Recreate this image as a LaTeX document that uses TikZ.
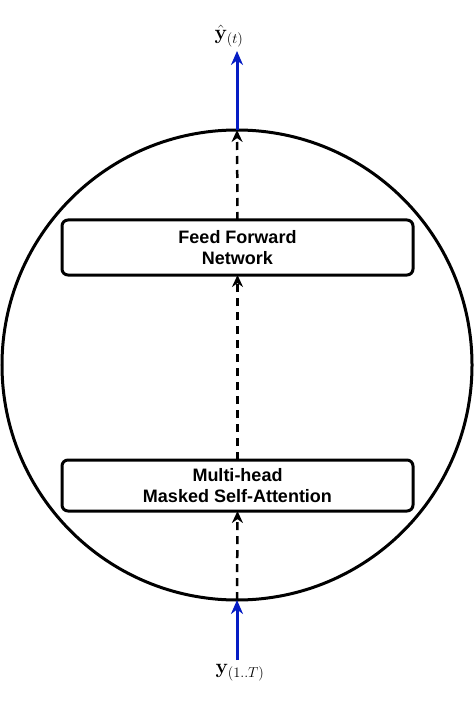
\documentclass[tikz,border=0pt]{standalone}
\usepackage[no-math]{fontspec}
\setmainfont{Liberation Sans}
\usetikzlibrary{arrows.meta}
\definecolor{iblue}{RGB}{5,28,196}

\begin{document}
\begin{tikzpicture}[x=1pt,y=-1pt]
		\useasboundingbox (0,0) rectangle (474,703);
		\tikzset{cell/.style = {shape=circle,draw,line width=3pt,minimum size=470pt,inner sep=0pt,outer sep=0pt}}
		\tikzset{block/.style = {shape=rectangle,draw,line width=3pt,rounded corners=6pt,minimum width=351pt,inner sep=0pt,outer sep=0pt,align=center,font=\fontsize{18}{21.6}\selectfont\bfseries}}
		\tikzset{label/.style = {inner sep=0pt,font=\fontsize{21.5}{25}\selectfont}}
		\tikzset{flow/.style = {line width=2.5pt,dash pattern=on 8pt off 6pt,-{Stealth[length=12pt,width=11pt]}}}
		\tikzset{io/.style = {line width=3pt,draw=iblue,-{Stealth[length=14pt,width=12pt]}}}
		\node[cell] (C) at (237,365) {};
		\node[block,minimum height=55pt] (F) at (237.5,247.5) {Feed Forward\\Network};
		\node[block,minimum height=51pt] (M) at (237.5,485.5) {Multi-head\\Masked Self-Attention};
		\node[label] (Y) at (229,36) {$\hat{\mathbf{y}}_{(t)}$};
		\node[label] (X) at (240,673) {$\mathbf{y}_{(1..T)}$};
		\coordinate (in) at (237,660);
		\coordinate (out) at (237,51);
		%edges
		\draw[io] (in) -- (C.south);
		\draw[flow] (C.south) -- (M.south);
		\draw[flow] (M.north) -- (F.south);
		\draw[flow] (F.north) -- (C.north);
		\draw[io] (C.north) -- (out);
		\end{tikzpicture}
\end{document}
